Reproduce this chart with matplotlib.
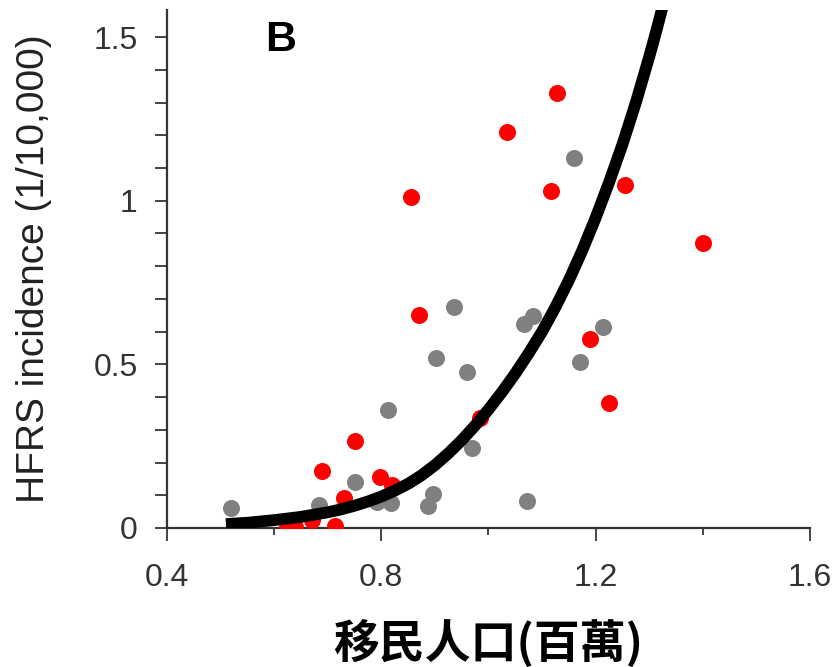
import numpy as np
import matplotlib
matplotlib.use("Agg")
import matplotlib.pyplot as plt
from matplotlib.ticker import MultipleLocator

# gray points
gray_x = [0.519, 0.683, 0.750, 0.792, 0.819, 0.812, 0.888, 0.897, 0.903, 0.935,
          0.959, 0.970, 1.066, 1.083, 1.071, 1.159, 1.170, 1.214]
gray_y = [0.062, 0.070, 0.142, 0.080, 0.075, 0.361, 0.067, 0.104, 0.521, 0.674,
          0.476, 0.245, 0.622, 0.649, 0.082, 1.131, 0.506, 0.615]

# red points
red_x = [0.624, 0.639, 0.670, 0.690, 0.714, 0.730, 0.751, 0.797, 0.820, 0.855,
         0.870, 0.984, 1.035, 1.117, 1.128, 1.189, 1.224, 1.254, 1.400]
red_y = [0.002, 0.002, 0.024, 0.175, 0.006, 0.091, 0.267, 0.157, 0.131, 1.012,
         0.651, 0.337, 1.211, 1.031, 1.328, 0.577, 0.383, 1.047, 0.872]

# fitted curve
curve_x = [0.51, 0.55, 0.60, 0.65, 0.70, 0.725, 0.75, 0.775, 0.80, 0.825, 0.85,
           0.875, 0.90, 0.925, 0.95, 0.975, 1.00, 1.025, 1.05, 1.075, 1.10,
           1.125, 1.15, 1.175, 1.20, 1.225, 1.25, 1.275, 1.30, 1.315, 1.33]
curve_y = [0.012, 0.016, 0.024, 0.034, 0.048, 0.057, 0.068, 0.081, 0.096, 0.114,
           0.135, 0.161, 0.192, 0.228, 0.268, 0.313, 0.362, 0.415, 0.472, 0.534,
           0.600, 0.675, 0.757, 0.848, 0.948, 1.056, 1.172, 1.300, 1.440, 1.530,
           1.625]

x_ticks = [0.4, 0.8, 1.2, 1.6]
y_ticks = [0, 0.5, 1, 1.5]
y_ticklabels = ["0", "0.5", "1", "1.5"]

fig = plt.figure(figsize=(8.34, 6.67), dpi=100)
ax = fig.add_axes([0.2002, 0.2084, 0.771, 0.7766])

ax.scatter(gray_x, gray_y, s=150, color="#808080", linewidths=0, zorder=2)
ax.scatter(red_x, red_y, s=150, color="#ff0000", linewidths=0, zorder=3)
ax.plot(curve_x, curve_y, color="black", lw=8.5, solid_capstyle="butt",
        solid_joinstyle="round", zorder=4)

ax.set_xlim(0.4, 1.6)
ax.set_ylim(0, 1.583)

ax.set_xticks(x_ticks)
ax.set_xticklabels([str(t) for t in x_ticks])
ax.xaxis.set_minor_locator(MultipleLocator(0.2))
ax.set_yticks(y_ticks)
ax.set_yticklabels(y_ticklabels)
ax.yaxis.set_minor_locator(MultipleLocator(0.1))

for s in ["top", "right"]:
    ax.spines[s].set_visible(False)
for s in ["left", "bottom"]:
    ax.spines[s].set_color("#333333")
    ax.spines[s].set_linewidth(1.6)

ax.tick_params(axis="both", which="major", length=9, width=1.4, color="#444444",
               labelsize=23, labelcolor="#333333", direction="out")
ax.tick_params(axis="y", which="minor", length=9, width=1.4, color="#444444")
ax.tick_params(axis="x", which="minor", length=5, width=1.4, color="#444444")
ax.tick_params(axis="x", which="major", pad=16)
ax.tick_params(axis="y", which="major", pad=12)

for lab in ax.get_xticklabels() + ax.get_yticklabels():
    lab.set_family(["Liberation Sans", "DejaVu Sans"])

ax.set_ylabel("HFRS incidence (1/10,000)", fontsize=28, family=["Liberation Sans", "DejaVu Sans"],
              color="#222222", labelpad=30)
ax.set_xlabel("移民人口(百萬)", fontsize=33, fontweight="bold",
              family=["Noto Sans CJK TC", "DejaVu Sans"], labelpad=20)

ax.text(0.612, 1.49, "B", fontsize=31, fontweight="bold",
        family=["Liberation Sans", "DejaVu Sans"], ha="center", va="center")

fig.savefig("out.png", dpi=100)
